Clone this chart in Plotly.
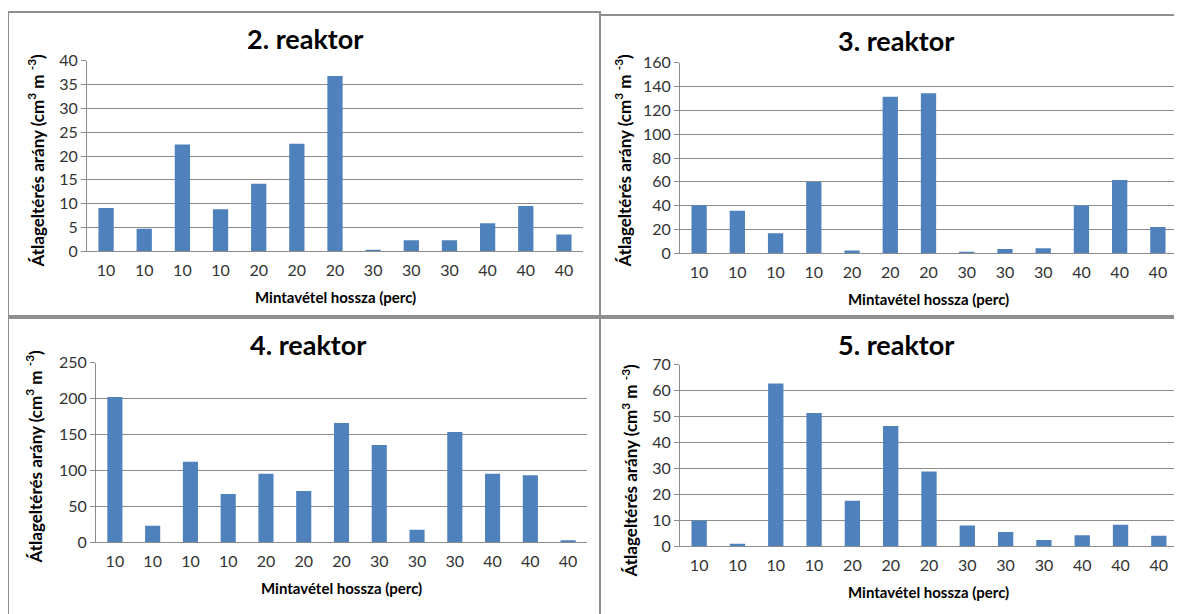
"""Négy reaktor átlageltérés aránya oszlopdiagramon, Excel-szerű stílusban."""
import plotly.graph_objects as go

W, H = 1182, 614
OFFX, OFFY, HS = 8, 17, 597  # a megjelenített oldal eltolása / függőleges mérete
BLUE = "#4f81bd"
GRID = "#8c8c8c"
TICK = "#333333"
FONT = "Lato, 'Open Sans', sans-serif"

# mintavétel hossza (perc) – kategóriacímkék
minta = ["10", "10", "10", "10", "20", "20", "20", "30", "30", "30", "40", "40", "40"]

reaktor2 = [9.1, 4.7, 22.4, 8.8, 14.2, 22.6, 36.8, 0.3, 2.3, 2.3, 5.9, 9.5, 3.5]
reaktor3 = [40.3, 35.6, 16.7, 59.8, 2.2, 131.6, 134.4, 0.8, 3.6, 4.2, 40.1, 61.5, 22.0]
reaktor4 = [202.5, 23.1, 112.1, 67.3, 95.5, 71.5, 166.0, 135.6, 17.5, 153.6, 95.5, 93.2, 2.8]
reaktor5 = [9.9, 1.0, 62.8, 51.4, 17.5, 46.4, 28.8, 8.0, 5.5, 2.4, 4.2, 8.3, 4.0]

# panelek: (cím, adatok, y-max, lépés, plot-terület px: x0, x1, y0, y1,
#           cím pozíció, x-cím y, y-cím x/y, keret)
panels = [
    ("2. reaktor", reaktor2, 40, 5, (87, 583, 60, 251), (305, 38), 297, (36, 160),
     (8, 11, 600, 316)),
    ("3. reaktor", reaktor3, 160, 20, (680, 1177, 62, 253), (896, 40), 299, (623, 160),
     (600, 14, 1186, 316)),
    ("4. reaktor", reaktor4, 250, 50, (96, 587, 363, 543), (308, 345), 589, (34, 457),
     (8, 318, 600, 640)),
    ("5. reaktor", reaktor5, 70, 10, (680, 1178, 365, 547), (896, 345), 593, (629, 471),
     (600, 318, 1186, 640)),
]


def px(x):
    return (x - OFFX) / W


def py(y):
    return 1 - (y - OFFY) / HS


fig = go.Figure()
annotations, shapes = [], []

for i, (title, vals, ymax, dt, area, tpos, xty, ytpos, box) in enumerate(panels, start=1):
    x0, x1, y0, y1 = area
    xa = "xaxis" if i == 1 else f"xaxis{i}"
    ya = "yaxis" if i == 1 else f"yaxis{i}"
    xr = "x" if i == 1 else f"x{i}"
    yr = "y" if i == 1 else f"y{i}"

    fig.add_trace(go.Bar(
        x=list(range(len(vals))), y=vals, xaxis=xr, yaxis=yr,
        marker=dict(color=BLUE, line=dict(width=0)), showlegend=False,
        hovertemplate="%{y}<extra></extra>"))

    fig.layout[xa] = dict(
        domain=[px(x0), px(x1)], anchor=yr, range=[-0.5, len(vals) - 0.5],
        tickvals=list(range(len(vals))), ticktext=minta, ticks="",
        ticklabelstandoff=5, showgrid=False, zeroline=False,
        showline=True, linecolor=GRID, linewidth=1,
        tickfont=dict(family=FONT, size=16, color=TICK), fixedrange=True)
    fig.layout[ya] = dict(
        domain=[max(0, py(y1)), min(1, py(y0))], anchor=xr, range=[0, ymax], dtick=dt,
        showgrid=True, gridcolor=GRID, gridwidth=1, zeroline=False,
        showline=True, linecolor=GRID, linewidth=1,
        ticks="outside", ticklen=5, tickcolor=GRID,
        tickfont=dict(family=FONT, size=16, color=TICK), fixedrange=True)

    annotations.append(dict(
        text=f"<b>{title}</b>", x=px(tpos[0]), y=py(tpos[1]), xref="paper",
        yref="paper", showarrow=False, xanchor="center", yanchor="middle",
        font=dict(family=FONT, size=27, color="#000000")))
    annotations.append(dict(
        text="<b>Mintavétel hossza (perc)</b>", x=px((x0 + x1) / 2), y=py(xty),
        xref="paper", yref="paper", showarrow=False, xanchor="center",
        yanchor="middle", font=dict(family=FONT, size=15, color="#000000")))
    annotations.append(dict(
        text="<b>Átlageltérés arány (cm<sup>3</sup> m <sup>-3</sup>)</b>",
        x=px(ytpos[0]), y=py(ytpos[1]), xref="paper", yref="paper",
        showarrow=False, textangle=-90, xanchor="center", yanchor="middle",
        font=dict(family=FONT, size=17, color="#000000")))

    bx0, by0, bx1, by1 = box
    shapes.append(dict(
        type="rect", xref="paper", yref="paper", x0=px(bx0), x1=px(bx1),
        y0=py(by1), y1=py(by0), line=dict(color="#8f8f8f", width=2),
        layer="below"))

fig.update_layout(
    width=W, height=H, margin=dict(l=0, r=0, t=0, b=0),
    paper_bgcolor="white", plot_bgcolor="white", bargap=0.6,
    annotations=annotations, shapes=shapes,
    font=dict(family=FONT, color=TICK))

fig.write_html("out.html")
